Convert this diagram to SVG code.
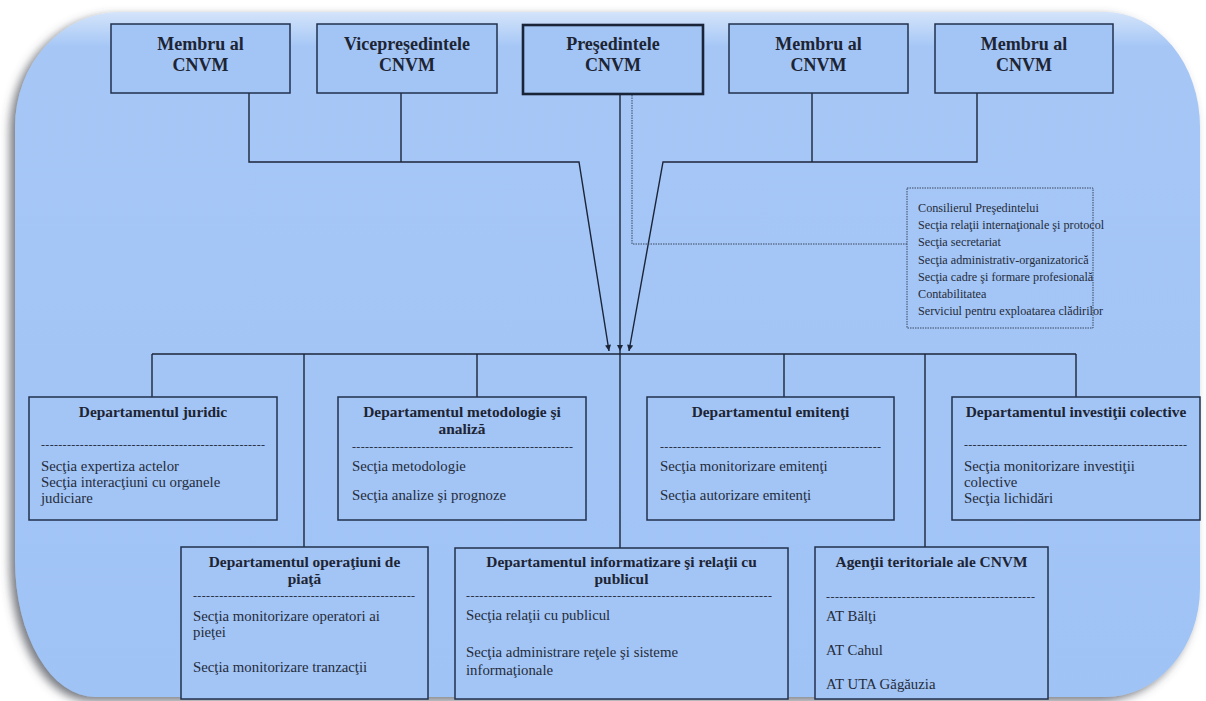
<svg xmlns="http://www.w3.org/2000/svg" width="1206" height="701" viewBox="0 0 1206 701">
<defs>
<style>
.box{fill:#a3c5f6;stroke:#22314d;stroke-width:1.5}
.pres{fill:#a3c5f6;stroke:#1a2438;stroke-width:2.6}
.ln{fill:none;stroke:#1c2538;stroke-width:1.4}
.dot{fill:none;stroke:#3a4660;stroke-width:1;stroke-dasharray:1.5 1}
.top{font-family:"Liberation Serif","DejaVu Serif",serif;font-weight:bold;font-size:18px;fill:#1d2433;text-anchor:middle}
.hd{font-family:"Liberation Serif","DejaVu Serif",serif;font-weight:bold;font-size:15.4px;fill:#1d2433;text-anchor:middle}
.tx{font-family:"Liberation Serif","DejaVu Serif",serif;font-size:14.8px;fill:#252c3a}
.cs{font-family:"Liberation Serif","DejaVu Serif",serif;font-size:12.2px;fill:#252c3a}
.ds{font-family:"Liberation Serif","DejaVu Serif",serif;font-size:12px;fill:#2a3345}
</style>
<linearGradient id="bg" x1="0" y1="0" x2="0" y2="1">
<stop offset="0" stop-color="#d4e4fa"/>
<stop offset="0.05" stop-color="#a6c7f6"/>
<stop offset="1" stop-color="#a0c3f6"/>
</linearGradient>
<filter id="sh" x="-5%" y="-5%" width="110%" height="110%">
<feGaussianBlur in="SourceAlpha" stdDeviation="5"/>
<feOffset dx="-5" dy="4" result="b"/>
<feFlood flood-color="#4a4f58" flood-opacity="0.75"/>
<feComposite in2="b" operator="in"/>
<feMerge><feMergeNode/><feMergeNode in="SourceGraphic"/></feMerge>
</filter>
<marker id="arr" viewBox="0 0 8 8" refX="8" refY="4" markerWidth="7" markerHeight="6" orient="auto" markerUnits="userSpaceOnUse">
<path d="M0,0 L8,4 L0,8 z" fill="#1c2538"/>
</marker>
</defs>
<rect width="1206" height="701" fill="#ffffff"/>
<path id="background" filter="url(#sh)" fill="url(#bg)" d="M120,12 L1105,12 A95 115 0 0 1 1200,127 L1200,588 A95 109 0 0 1 1105,697 L95,697 A80 137 0 0 1 15,560 L15,127 A105 115 0 0 1 120,12 Z"/>

<g id="connectors">
<path class="ln" d="M249,93 V162 H579 L609,351" marker-end="url(#arr)"/>
<path class="ln" d="M401,93 V162"/>
<path class="ln" d="M977,93 V162 H663 L629,351" marker-end="url(#arr)"/>
<path class="ln" d="M812,93 V162"/>
<path class="ln" d="M620,95 V351" marker-end="url(#arr)"/>
<path class="ln" d="M620,351 V548"/>
<path class="dot" d="M632,95 V244 H907"/>
<path class="ln" d="M152,354 H1076"/>
<path class="ln" d="M152,354 V397"/>
<path class="ln" d="M304,354 V547"/>
<path class="ln" d="M477,354 V397"/>
<path class="ln" d="M784,354 V397"/>
<path class="ln" d="M925,354 V547"/>
<path class="ln" d="M1076,354 V397"/>
</g>

<g id="n-membru1">
<rect class="box" x="111" y="24" width="179" height="69"/>
<text class="top" x="200.5" y="50">Membru al</text>
<text class="top" x="200.5" y="71">CNVM</text>
</g>
<g id="n-vice">
<rect class="box" x="317" y="24" width="180" height="69"/>
<text class="top" x="407" y="50">Vicepreşedintele</text>
<text class="top" x="407" y="71">CNVM</text>
</g>
<g id="n-presedinte">
<rect class="pres" x="523" y="25" width="180" height="69"/>
<text class="top" x="613" y="50">Preşedintele</text>
<text class="top" x="613" y="71">CNVM</text>
</g>
<g id="n-membru2">
<rect class="box" x="729" y="24" width="179" height="69"/>
<text class="top" x="818.5" y="50">Membru al</text>
<text class="top" x="818.5" y="71">CNVM</text>
</g>
<g id="n-membru3">
<rect class="box" x="935" y="24" width="178" height="69"/>
<text class="top" x="1024" y="50">Membru al</text>
<text class="top" x="1024" y="71">CNVM</text>
</g>

<g id="n-consilier">
<rect class="dot" x="907" y="188" width="186" height="140"/>
<text class="cs" x="918" y="212">Consilierul Preşedintelui</text>
<text class="cs" x="918" y="229">Secţia relaţii internaţionale şi protocol</text>
<text class="cs" x="918" y="246">Secţia secretariat</text>
<text class="cs" x="918" y="264">Secţia administrativ-organizatorică</text>
<text class="cs" x="918" y="281">Secţia cadre şi formare profesională</text>
<text class="cs" x="918" y="298">Contabilitatea</text>
<text class="cs" x="918" y="315">Serviciul pentru exploatarea clădirilor</text>
</g>

<g id="n-juridic">
<rect class="box" x="29" y="397" width="248" height="123"/>
<text class="hd" x="153" y="417">Departamentul juridic</text>
<text class="ds" x="41" y="449" textLength="224" lengthAdjust="spacing">----------------------------------------------------</text>
<text class="tx" x="41" y="471">Secţia expertiza actelor</text>
<text class="tx" x="41" y="487">Secţia interacţiuni cu organele</text>
<text class="tx" x="41" y="503">judiciare</text>
</g>
<g id="n-metodologie">
<rect class="box" x="338" y="397" width="248" height="123"/>
<text class="hd" x="462" y="417">Departamentul metodologie şi</text>
<text class="hd" x="462" y="434">analiză</text>
<text class="ds" x="352" y="451" textLength="221" lengthAdjust="spacing">---------------------------------------------------</text>
<text class="tx" x="352" y="471">Secţia metodologie</text>
<text class="tx" x="352" y="500">Secţia analize şi prognoze</text>
</g>
<g id="n-emitenti">
<rect class="box" x="647" y="397" width="247" height="123"/>
<text class="hd" x="770.5" y="417">Departamentul emitenţi</text>
<text class="ds" x="660" y="451" textLength="221" lengthAdjust="spacing">---------------------------------------------------</text>
<text class="tx" x="660" y="471">Secţia monitorizare emitenţi</text>
<text class="tx" x="660" y="500">Secţia autorizare emitenţi</text>
</g>
<g id="n-investitii">
<rect class="box" x="952" y="397" width="248" height="123"/>
<text class="hd" x="1076" y="417">Departamentul investiţii colective</text>
<text class="ds" x="964" y="449" textLength="223" lengthAdjust="spacing">----------------------------------------------------</text>
<text class="tx" x="964" y="471">Secţia monitorizare investiţii</text>
<text class="tx" x="964" y="487">colective</text>
<text class="tx" x="964" y="503">Secţia lichidări</text>
</g>
<g id="n-operatiuni">
<rect class="box" x="181" y="547" width="247" height="152"/>
<text class="hd" x="304.5" y="567">Departamentul operaţiuni de</text>
<text class="hd" x="304.5" y="584">piaţă</text>
<text class="ds" x="193" y="600" textLength="222" lengthAdjust="spacing">---------------------------------------------------</text>
<text class="tx" x="193" y="621">Secţia monitorizare operatori ai</text>
<text class="tx" x="193" y="637">pieţei</text>
<text class="tx" x="193" y="672">Secţia monitorizare tranzacţii</text>
</g>
<g id="n-informatizare">
<rect class="box" x="455" y="548" width="333" height="151"/>
<text class="hd" x="621.5" y="567">Departamentul informatizare şi relaţii cu</text>
<text class="hd" x="621.5" y="584">publicul</text>
<text class="ds" x="466" y="600" textLength="306" lengthAdjust="spacing">---------------------------------------------------------------------</text>
<text class="tx" x="466" y="620">Secţia relaţii cu publicul</text>
<text class="tx" x="466" y="657">Secţia administrare reţele şi sisteme</text>
<text class="tx" x="466" y="675">informaţionale</text>
</g>
<g id="n-agentii">
<rect class="box" x="815" y="547" width="233" height="152"/>
<text class="hd" x="931.5" y="567">Agenţii teritoriale ale CNVM</text>
<text class="ds" x="826" y="601" textLength="209" lengthAdjust="spacing">-----------------------------------------------</text>
<text class="tx" x="826" y="621">AT Bălţi</text>
<text class="tx" x="826" y="655">AT Cahul</text>
<text class="tx" x="826" y="689">AT UTA Găgăuzia</text>
</g>
</svg>
